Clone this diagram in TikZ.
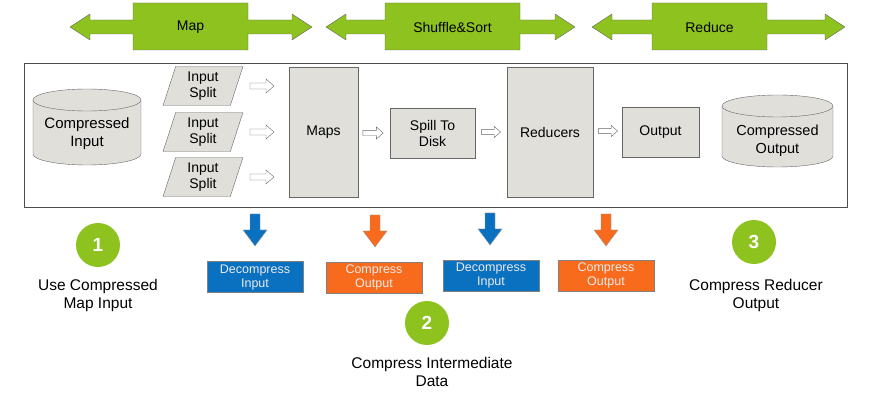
\documentclass[tikz,border=0pt]{standalone}
\usepackage{fontspec}
\setmainfont{Liberation Sans}
\usetikzlibrary{shapes.geometric}
\definecolor{grn}{HTML}{8DC21F}
\definecolor{gry}{HTML}{E0DFD9}
\definecolor{blu}{HTML}{0A70C0}
\definecolor{org}{HTML}{F86A1C}
\begin{document}
\begin{tikzpicture}[x=1pt,y=-1pt,
  box/.style={draw=black!60,fill=gry,font=\fontsize{14}{16}\selectfont,align=center,inner sep=0},
  split/.style={box,trapezium,trapezium left angle=72,trapezium right angle=108,minimum width=80,minimum height=39,text width=40},
  cbox/.style={draw=black!50,text=white!92!black,font=\fontsize{12.5}{14}\selectfont,align=center,minimum width=96,minimum height=31,inner sep=0},
  num/.style={circle,fill=grn,text=white,font=\bfseries\fontsize{19}{20}\selectfont,minimum size=44,inner sep=0},
  lbl/.style={font=\fontsize{15.5}{18}\selectfont,align=center},
  cyltxt/.style={font=\fontsize{15}{18}\selectfont,align=center},
  cylp/.pic={\draw[draw=black!60,fill=gry] (-\pgfkeysvalueof{/tikz/cw},-\pgfkeysvalueof{/tikz/ch}) -- (-\pgfkeysvalueof{/tikz/cw},\pgfkeysvalueof{/tikz/ch}) arc[start angle=180,end angle=360,x radius=\pgfkeysvalueof{/tikz/cw},y radius=-11] -- (\pgfkeysvalueof{/tikz/cw},-\pgfkeysvalueof{/tikz/ch}) arc[start angle=0,end angle=180,x radius=\pgfkeysvalueof{/tikz/cw},y radius=-11] -- cycle;
    \draw[draw=black!60] (-\pgfkeysvalueof{/tikz/cw},-\pgfkeysvalueof{/tikz/ch}) arc[start angle=180,end angle=360,x radius=\pgfkeysvalueof{/tikz/cw},y radius=-11];},
  cw/.initial=54, ch/.initial=27,
  harr/.pic={\draw[draw=black!60,fill=white] (-12,-3) -- (4,-3) -- (4,-7) -- (12,0) -- (4,7) -- (4,3) -- (-12,3) -- cycle;},
  darr/.pic={\draw[draw=black!40,fill=\pgfkeysvalueof{/tikz/fillc}] (-5,-16) -- (5,-16) -- (5,0) -- (12,0) -- (0,16) -- (-12,0) -- (-5,0) -- cycle;},
  fillc/.initial=blu]
\useasboundingbox (0,0) rectangle (879,401);
\foreach \n/\l/\a/\b/\r/\t in {pm/70/133/248/312/Map,ps/326/385/520/575/Shuffle\&Sort,pr/592/652/767/845/Reduce}{
  \draw[draw=black!60,fill=grn] (\l,27) -- (\l+20,14) -- (\l+20,20) -- (\a,20) -- (\a,3) -- (\b,3) -- (\b,20) -- (\r-20,20) -- (\r-20,14) -- (\r,27) -- (\r-20,40) -- (\r-20,34) -- (\b,34) -- (\b,50) -- (\a,50) -- (\a,34) -- (\l+20,34) -- (\l+20,40) -- cycle;
  \node[font=\fontsize{14}{16}\selectfont] (\n) at ({(\a+\b)/2},27) {\t};
}
\node[draw=black!70,minimum width=823,minimum height=144,inner sep=0] (frame) at (435.5,135) {};
\pic[cw=54,ch=27] at (87,127) {cylp};
\node[cyltxt] (cin) at (87,134) {Compressed\\Input};
\pic[cw=55.5,ch=25] at (777.5,131) {cylp};
\node[cyltxt,font=\fontsize{14.5}{18}\selectfont] (cout) at (777.5,141) {Compressed\\Output};
\node[split] (s1) at (203,86) {Input\\Split};
\node[split] (s2) at (203,132) {Input\\Split};
\node[split] (s3) at (203,177) {Input\\Split};
\node[box,minimum width=69,minimum height=130] (maps) at (323.5,132) {Maps};
\node[box,minimum width=85,minimum height=50] (spill) at (432.5,133) {Spill To\\Disk};
\node[box,minimum width=86,minimum height=130] (red) at (550,132) {Reducers};
\node[box,minimum width=77,minimum height=50] (out) at (660.5,132) {Output};
\pic at (262,86) {harr};
\pic at (262,132) {harr};
\pic at (262,177) {harr};
\pic[scale=0.85] at (373,133) {harr};
\pic[scale=0.8] at (491,132) {harr};
\pic[scale=0.8] at (608,131) {harr};
\pic[fillc=blu] at (255,230) {darr};
\pic[fillc=org] at (375,231) {darr};
\pic[fillc=blu] at (490,229) {darr};
\pic[fillc=org] at (606,230) {darr};
\node[cbox,fill=blu] (b1) at (255,277) {Decompress\\Input};
\node[cbox,fill=org] (b2) at (374,277.5) {Compress\\Output};
\node[cbox,fill=blu] (b3) at (491,275.5) {Decompress\\Input};
\node[cbox,fill=org] (b4) at (606,275.5) {Compress\\Output};
\node[num] (n1) at (98,245) {1};
\node[num] (n2) at (427,323) {2};
\node[num] (n3) at (754,242) {3};
\node[lbl] (t1) at (98,295) {Use Compressed\\Map Input};
\node[lbl] (t2) at (432,372) {Compress Intermediate\\Data};
\node[lbl] (t3) at (756,295) {Compress Reducer\\Output};
\end{tikzpicture}
\end{document}
